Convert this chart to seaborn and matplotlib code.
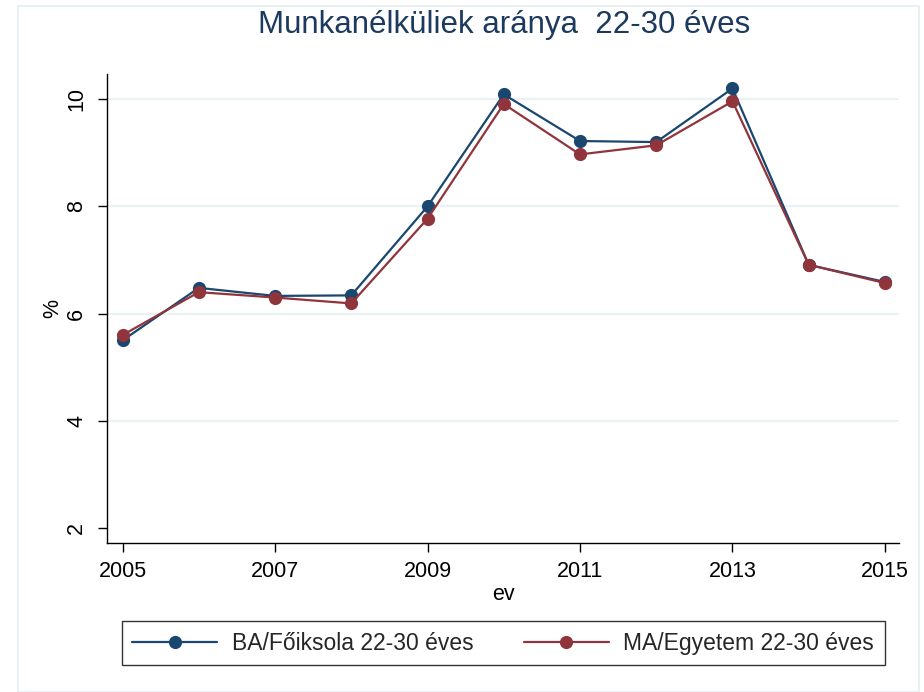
import matplotlib
matplotlib.use("Agg")
import matplotlib.pyplot as plt
import seaborn as sns
import pandas as pd
from matplotlib.patches import Rectangle
from matplotlib.lines import Line2D

years = [2005, 2006, 2007, 2008, 2009, 2010, 2011, 2012, 2013, 2014, 2015]
ba_values = [5.50, 6.48, 6.33, 6.34, 8.00, 10.09, 9.22, 9.20, 10.20, 6.91, 6.59]
ma_values = [5.60, 6.40, 6.30, 6.19, 7.77, 9.91, 8.97, 9.14, 9.96, 6.91, 6.57]
series_names = ["BA/Főiksola 22-30 éves", "MA/Egyetem 22-30 éves"]
colors = ["#1a476f", "#90353b"]
x_ticks = [2005, 2007, 2009, 2011, 2013, 2015]
y_ticks = [2, 4, 6, 8, 10]

df = pd.DataFrame({
    "ev": years * 2,
    "value": ba_values + ma_values,
    "series": [series_names[0]] * len(years) + [series_names[1]] * len(years),
})

sns.set_theme(style="white")
plt.rcParams["font.family"] = ["Liberation Sans", "DejaVu Sans"]

fig = plt.figure(figsize=(9.24, 6.92), dpi=100)
fig.patch.set_facecolor("white")
fig.patches.append(Rectangle((18 / 924, 0), 901 / 924, 1 - 6 / 692, transform=fig.transFigure,
                             fill=False, edgecolor="#e3eef0", linewidth=1.2))

ax = fig.add_axes([107.3 / 924, 1 - 542.5 / 692, (898.7 - 107.3) / 924, (542.5 - 74) / 692])
ax.set_facecolor("white")

for ytick in y_ticks[1:]:
    ax.axhline(ytick, color="#eaf2f3", linewidth=1.6, zorder=0)

sns.lineplot(data=df, x="ev", y="value", hue="series", palette=colors,
             marker="o", markersize=9.5, markeredgewidth=0, linewidth=1.6,
             dashes=False, legend=False, ax=ax, zorder=3)

ax.set_xlim(2004.80, 2015.18)
ax.set_ylim(1.73, 10.47)
ax.set_xticks(x_ticks)
ax.set_xticklabels([str(t) for t in x_ticks])
ax.set_yticks(y_ticks)
ax.set_yticklabels([str(t) for t in y_ticks], rotation=90, va="center")

for side in ["top", "right"]:
    ax.spines[side].set_visible(False)
for side in ["left", "bottom"]:
    ax.spines[side].set_color("black")
    ax.spines[side].set_linewidth(1.0)

ax.tick_params(axis="both", direction="out", length=6.5, width=1.0, color="black",
               labelsize=15.5, labelcolor="black", left=True, bottom=True)
ax.tick_params(axis="x", pad=7)
ax.tick_params(axis="y", pad=8)

ax.set_xlabel("ev", fontsize=15.5, color="black", labelpad=1)
ax.set_ylabel("%", fontsize=15.5, color="black", labelpad=2)

fig.text(504 / 924, 1 - 25 / 692, "Munkanélküliek aránya  22-30 éves", ha="center", va="center",
         fontsize=22.5, color="#1c3a5e")

handles = [Line2D([0], [0], color=c, linewidth=1.6, marker="o", markersize=9.5, markeredgewidth=0)
           for c in colors]
leg = ax.legend(handles, series_names, loc="lower left",
                bbox_to_anchor=(122 / 924, 1 - 665 / 692, 762.5 / 924, 44.3 / 692),
                bbox_transform=fig.transFigure, mode="expand", ncol=2, fontsize=16.5,
                frameon=True, fancybox=False, handlelength=3.7, handletextpad=0.65,
                borderpad=0.45, borderaxespad=0)
leg.get_frame().set_edgecolor("black")
leg.get_frame().set_linewidth(1.0)
leg.get_frame().set_facecolor("white")

fig.savefig("out.png", dpi=100)
